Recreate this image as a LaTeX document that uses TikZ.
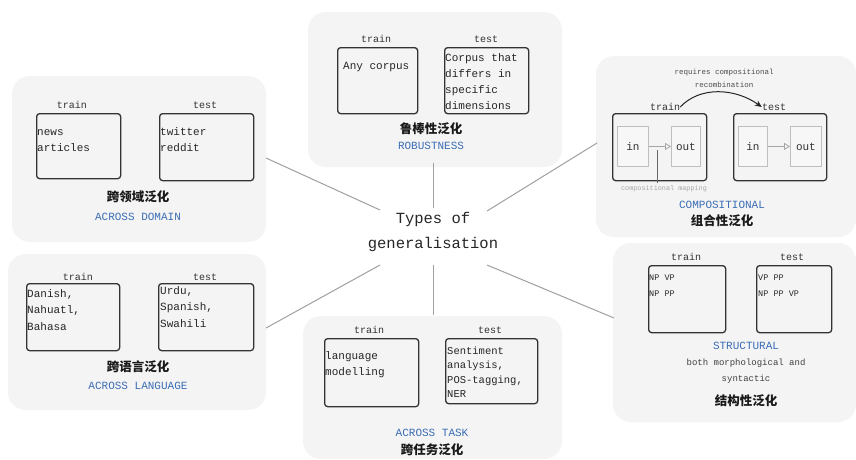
\documentclass[tikz,border=0pt]{standalone}
\usepackage{fontspec}
\setmonofont{Liberation Mono}
\newfontfamily\cjk{Noto Sans CJK SC}
\usetikzlibrary{arrows.meta}
\definecolor{lblue}{HTML}{3A6DB5}
\definecolor{connc}{HTML}{A0A0A0}
\definecolor{panelc}{HTML}{F4F4F4}
\newcommand{\tl}{\rule{0pt}{9pt}}
\tikzset{
 box/.style={draw=black!80, line width=1.3pt, rounded corners=3pt, anchor=north west, inner sep=0pt},
 inbox/.style={draw=black!25, fill=black!3, line width=0.8pt, anchor=north west, inner sep=0pt, font=\ttfamily\fontsize{11}{12}\selectfont, text=black!80},
 boxtxt/.style={anchor=north west, inner sep=0pt, align=left, font=\ttfamily\fontsize{11}{16.5}\selectfont, text=black!85},
 caplbl/.style={font=\ttfamily\fontsize{10}{12}\selectfont, text=black!80, inner sep=0pt},
 en/.style={font=\ttfamily\fontsize{11}{12}\selectfont, text=lblue, inner sep=0pt},
 zh/.style={font=\cjk\bfseries\fontsize{12.5}{14}\selectfont, text=black!90, inner sep=0pt},
 note/.style={font=\ttfamily\fontsize{9}{16}\selectfont, text=black!75, inner sep=0pt, align=center},
 connl/.style={draw=connc, line width=1pt},
 panel/.style={fill=panelc, rounded corners=18pt},
}
\begin{document}
\begin{tikzpicture}[x=1pt,y=-1pt]
\useasboundingbox (0,0) rectangle (856,459);
\fill[white] (0,0) rectangle (856,459);
% panels
\fill[panel] (12,76) rectangle (266,242);
\fill[panel] (308,12) rectangle (562,167);
\fill[panel] (596,56) rectangle (856,237);
\fill[panel] (8,254) rectangle (266,410);
\fill[panel] (303,316) rectangle (562,459);
\fill[panel] (613,243) rectangle (856,422);

% title
\node[font=\ttfamily\fontsize{15.5}{25}\selectfont, text=black!85, align=center, inner sep=0pt] (title) at (433,232) {Types of\\generalisation};

% connectors
\coordinate (dA) at (380,210); \coordinate (dB) at (266,158);
\coordinate (rA) at (433,208); \coordinate (rB) at (433,163);
\coordinate (cA) at (487,211); \coordinate (cB) at (597,143);
\coordinate (lA) at (380,265); \coordinate (lB) at (266,328);
\coordinate (tA) at (433,265); \coordinate (tB) at (433,315);
\coordinate (sA) at (487,265); \coordinate (sB) at (614,318);
\draw[connl] (dA) -- (dB);
\draw[connl] (rA) -- (rB);
\draw[connl] (cA) -- (cB);
\draw[connl] (lA) -- (lB);
\draw[connl] (tA) -- (tB);
\draw[connl] (sA) -- (sB);

% ACROSS DOMAIN
\node[box, minimum width=84pt, minimum height=65pt] (dtr) at (36,113) {};
\node[box, minimum width=94pt, minimum height=67pt] (dte) at (159,113) {};
\node[caplbl] (dtrl) at (72,105) {train};
\node[caplbl] (dtel) at (205,105) {test};
\node[boxtxt] (dtrt) at (37,126) {\tl news\\articles};
\node[boxtxt] (dtet) at (160,126) {\tl twitter\\reddit};
\node[zh] (dzh) at (138,197) {跨领域泛化};
\node[en] (den) at (138,217) {ACROSS DOMAIN};

% ROBUSTNESS
\node[box, minimum width=80pt, minimum height=66pt] (rtr) at (337,47) {};
\node[box, minimum width=84pt, minimum height=66pt] (rte) at (444,47) {};
\node[caplbl] (rtrl) at (376,39) {train};
\node[caplbl] (rtel) at (486,39) {test};
\node[boxtxt] (rtrt) at (343,60) {\tl Any corpus};
\node[boxtxt, font=\ttfamily\fontsize{11}{16}\selectfont] (rtet) at (445,52) {\tl Corpus that\\differs in\\specific\\dimensions};
\node[zh] (rzh) at (431,129) {鲁棒性泛化};
\node[en] (ren) at (431,146) {ROBUSTNESS};

% COMPOSITIONAL
\node[box, minimum width=94pt, minimum height=67pt] (ctr) at (612,113) {};
\node[box, minimum width=93pt, minimum height=67pt] (cte) at (733,113) {};
\node[inbox, minimum width=31pt, minimum height=40pt] (ctrin) at (617,126) {in};
\node[inbox, minimum width=29pt, minimum height=40pt] (ctrout) at (671,126) {out};
\node[inbox, minimum width=29pt, minimum height=40pt] (ctein) at (738,126) {in};
\node[inbox, minimum width=31pt, minimum height=40pt] (cteout) at (790,126) {out};
\draw[draw=black!35, line width=0.8pt, -{Triangle[open, length=6pt, width=7pt]}] (ctrin) -- (ctrout);
\draw[draw=black!35, line width=0.8pt, -{Triangle[open, length=6pt, width=7pt]}] (ctein) -- (cteout);
\node[caplbl] (ctrl) at (665,107) {train};
\node[caplbl] (ctel) at (774,107) {test};
\draw[black!85, line width=1pt, -{Stealth[length=7pt, width=6pt]}] (ctrl.east) .. controls (700,86) and (735,88) .. (ctel.west);
\node[font=\ttfamily\fontsize{7.5}{13}\selectfont, text=black!70, align=center, inner sep=0pt] (cnote) at (724,78) {requires compositional\\recombination};
\node[font=\ttfamily\fontsize{6.8}{8}\selectfont, text=black!35, inner sep=0pt] (cmap) at (664,189) {compositional mapping};
\coordinate (cmapT) at (657,150);
\coordinate (cmapB) at (657,183);
\draw[black!60, line width=0.7pt] (cmapT) -- (cmapB);
\node[en] (cen) at (722,205) {COMPOSITIONAL};
\node[zh] (czh) at (722,221) {组合性泛化};

% ACROSS LANGUAGE
\node[box, minimum width=93pt, minimum height=67pt] (ltr) at (26,283) {};
\node[box, minimum width=95pt, minimum height=67pt] (lte) at (158,283) {};
\node[caplbl] (ltrl) at (78,277) {train};
\node[caplbl] (ltel) at (205,277) {test};
\node[boxtxt] (ltrt) at (27,288) {\tl Danish,\\Nahuatl,\\Bahasa};
\node[boxtxt] (ltet) at (160,285) {\tl Urdu,\\Spanish,\\Swahili};
\node[zh] (lzh) at (138,367) {跨语言泛化};
\node[en] (len) at (138,386) {ACROSS LANGUAGE};

% ACROSS TASK
\node[box, minimum width=94pt, minimum height=68pt] (ttr) at (324,338) {};
\node[box, minimum width=92pt, minimum height=65pt] (tte) at (445,338) {};
\node[caplbl] (ttrl) at (369,330) {train};
\node[caplbl] (ttel) at (490,330) {test};
\node[boxtxt] (ttrt) at (325,350) {\tl language\\modelling};
\node[boxtxt, font=\ttfamily\fontsize{10.5}{14.5}\selectfont] (ttet) at (447,345) {\tl Sentiment\\analysis,\\POS-tagging,\\NER};
\node[en] (ten) at (432,433) {ACROSS TASK};
\node[zh] (tzh) at (432,450) {跨任务泛化};

% STRUCTURAL
\node[box, minimum width=77pt, minimum height=67pt] (str) at (648,265) {};
\node[box, minimum width=75pt, minimum height=67pt] (ste) at (756,265) {};
\node[caplbl] (strl) at (686,257) {train};
\node[caplbl] (stel) at (792,257) {test};
\node[boxtxt, font=\ttfamily\fontsize{8.5}{16}\selectfont] (strt) at (649,271) {\tl NP VP\\NP PP};
\node[boxtxt, font=\ttfamily\fontsize{8.5}{16}\selectfont] (stet) at (758,271) {\tl VP PP\\NP PP VP};
\node[en] (sen) at (746,346) {STRUCTURAL};
\node[note] (snote) at (746,371) {both morphological and\\syntactic};
\node[zh] (szh) at (746,401) {结构性泛化};
\end{tikzpicture}
\end{document}
